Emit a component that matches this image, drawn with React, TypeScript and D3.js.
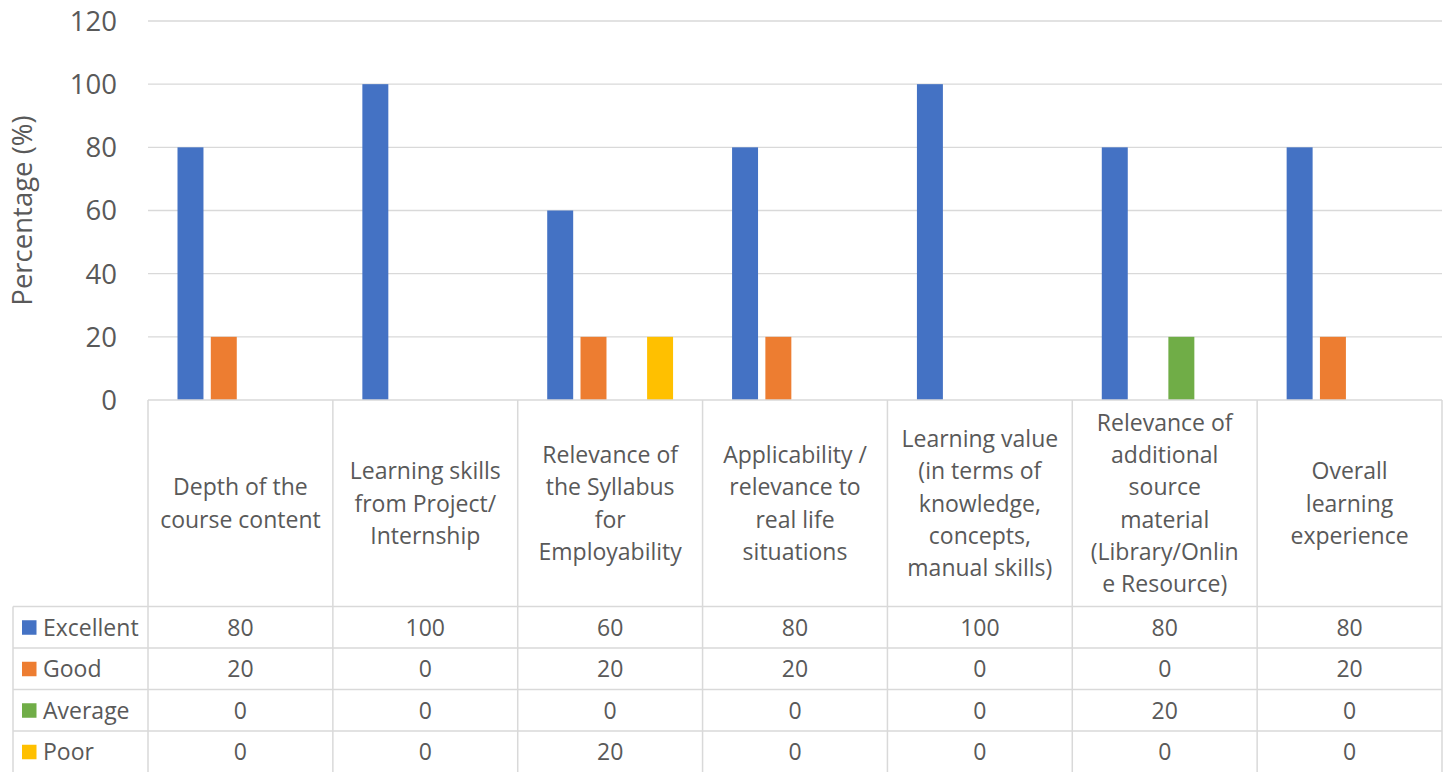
import * as d3 from "d3";

const categories = [
  "Depth of the course content",
  "Learning skills from Project/ Internship",
  "Relevance of the Syllabus for Employability",
  "Applicability / relevance to real life situations",
  "Learning value (in terms of knowledge, concepts, manual skills)",
  "Relevance of additional source material (Library/Online Resource)",
  "Overall learning experience",
];

// wrapped the way the table header shows them
const categoryLines = [
  ["Depth of the", "course content"],
  ["Learning skills", "from Project/", "Internship"],
  ["Relevance of", "the Syllabus", "for", "Employability"],
  ["Applicability /", "relevance to", "real life", "situations"],
  ["Learning value", "(in terms of", "knowledge,", "concepts,", "manual skills)"],
  ["Relevance of", "additional", "source", "material", "(Library/Onlin", "e Resource)"],
  ["Overall", "learning", "experience"],
];

const seriesNames = ["Excellent", "Good", "Average", "Poor"];
const excellent = [80, 100, 60, 80, 100, 80, 80];
const good = [20, 0, 20, 20, 0, 0, 20];
const average = [0, 0, 0, 0, 0, 20, 0];
const poor = [0, 0, 20, 0, 0, 0, 0];
const seriesColors = ["#4472C4", "#ED7D31", "#70AD47", "#FFC000"];
const yTicks = [0, 20, 40, 60, 80, 100, 120];

const W = 1452;
const H = 772;
const FONT = "'Open Sans', 'Noto Sans', sans-serif";
const TEXT = "#595959";
const GRID = "#D9D9D9";

export default function App() {
  const values = [excellent, good, average, poor];

  const left = 148;
  const right = 1442;
  const top = 21;
  const base = 400;
  const headerBottom = 606.5;
  const rowH = 41.5;
  const tableLeft = 13;

  const x = d3.scaleBand<string>().domain(categories).range([left, right]).padding(0);
  const xi = d3
    .scaleBand<string>()
    .domain(seriesNames)
    .range([0, x.bandwidth()])
    .paddingInner(0.22)
    .paddingOuter(0.886);
  const y = d3.scaleLinear().domain([0, 120]).range([base, top]);

  const headerMid = (base + headerBottom) / 2;
  const lineH = 32.3;
  const tableFont = 23;

  return (
    <svg
      width={W}
      height={H}
      style={{ position: "absolute", left: 0, top: 0, background: "#fff" }}
      fontFamily={FONT}
    >
      {/* gridlines */}
      {yTicks.slice(1).map((t) => (
        <line key={t} x1={left} x2={right} y1={y(t)} y2={y(t)} stroke={GRID} strokeWidth={1.3} />
      ))}

      {/* y tick labels */}
      {yTicks.map((t) => (
        <text
          key={"t" + t}
          x={117}
          y={y(t)}
          dy="0.36em"
          textAnchor="end"
          fontSize={27.5}
          fill={TEXT}
        >
          {t}
        </text>
      ))}

      <text
        transform={`translate(${32},${(top + base) / 2}) rotate(-90)`}
        textAnchor="middle"
        fontSize={27.5}
        fill={TEXT}
      >
        Percentage (%)
      </text>

      {/* bars */}
      {categories.map((c, ci) => (
        <g key={c} transform={`translate(${x(c)},0)`}>
          {seriesNames.map((s, si) => {
            const v = values[si][ci];
            if (!v) return null;
            return (
              <rect
                key={s}
                x={xi(s)}
                y={y(v)}
                width={xi.bandwidth()}
                height={base - y(v)}
                fill={seriesColors[si]}
              />
            );
          })}
        </g>
      ))}

      {/* table grid */}
      <line x1={left} x2={right} y1={base} y2={base} stroke={GRID} strokeWidth={1.5} />
      {seriesNames.map((s, si) => (
        <line
          key={"h" + s}
          x1={tableLeft}
          x2={right}
          y1={headerBottom + si * rowH}
          y2={headerBottom + si * rowH}
          stroke={GRID}
          strokeWidth={1.5}
        />
      ))}
      <line x1={tableLeft} x2={tableLeft} y1={headerBottom} y2={H} stroke={GRID} strokeWidth={1.5} />
      {categories.map((c) => (
        <line key={"v" + c} x1={x(c)} x2={x(c)} y1={base} y2={H} stroke={GRID} strokeWidth={1.5} />
      ))}
      <line x1={right} x2={right} y1={base} y2={H} stroke={GRID} strokeWidth={1.5} />

      {/* header labels */}
      {categories.map((c, ci) => {
        const lines = categoryLines[ci];
        const y0 = headerMid - ((lines.length - 1) * lineH) / 2;
        const cx = (x(c) as number) + x.bandwidth() / 2;
        return (
          <text key={"l" + c} x={cx} textAnchor="middle" fontSize={tableFont} fill={TEXT}>
            {lines.map((ln, li) => (
              <tspan key={li} x={cx} y={y0 + li * lineH} dy="0.36em">
                {ln}
              </tspan>
            ))}
          </text>
        );
      })}

      {/* legend + values rows */}
      {seriesNames.map((s, si) => {
        const cy = headerBottom + si * rowH + rowH / 2;
        return (
          <g key={"r" + s}>
            <rect x={22} y={cy - 7} width={14.5} height={14.5} fill={seriesColors[si]} />
            <text x={43} y={cy} dy="0.36em" fontSize={tableFont} fill={TEXT}>
              {s}
            </text>
            {categories.map((c, ci) => (
              <text
                key={c}
                x={(x(c) as number) + x.bandwidth() / 2}
                y={cy}
                dy="0.36em"
                textAnchor="middle"
                fontSize={tableFont}
                fill={TEXT}
              >
                {values[si][ci]}
              </text>
            ))}
          </g>
        );
      })}
    </svg>
  );
}
